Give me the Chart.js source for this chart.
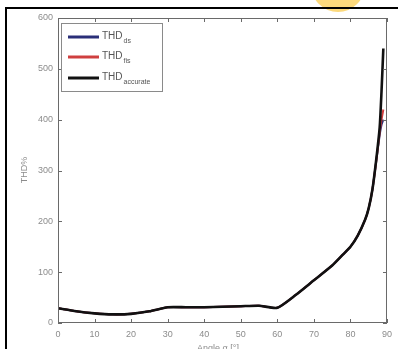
<!DOCTYPE html>
<html>
<head>
<meta charset="utf-8">
<script src="https://cdn.jsdelivr.net/npm/chart.js@4.4.0/dist/chart.umd.min.js"></script>
<style>
  html, body { margin: 0; padding: 0; background: #fff; }
  #wrap { position: relative; width: 398px; height: 349px; overflow: hidden; background: #fff; }
  #frameL { position: absolute; left: 5px; top: 7px; width: 2px; height: 342px; background: #000; }
  #frameT { position: absolute; left: 5px; top: 7px; width: 393px; height: 2px; background: #000; }
  #blob { position: absolute; left: 311px; top: -42px; width: 54px; height: 54px; border-radius: 50%; background: #fcd97c; }
  canvas { position: absolute; left: 0; top: 0; }
</style>
</head>
<body>
<div id="wrap">
  <canvas id="thdChart" width="398" height="349"></canvas>
  <div id="blob"></div>
  <div id="frameT"></div>
  <div id="frameL"></div>
</div>
<script>
// Angle values (x axis)
const angles = [0, 5, 10, 15, 20, 25, 30, 35, 40, 45, 50, 55, 60, 65, 70, 75, 78, 80, 82, 84, 85, 86, 87, 88, 88.5, 89];
// THD series
const thdDs       = [29, 23, 19, 17, 18, 23, 31, 31, 31, 32, 33, 34, 30, 55, 84, 113, 135, 150, 172, 203, 226, 262, 315, 370, 390, 400];
const thdFis      = [29, 23, 19, 17, 18, 23, 31, 31, 31, 32, 33, 34, 30, 55, 84, 113, 135, 150, 172, 203, 226, 262, 315, 375, 400, 420];
const thdAccurate = [29, 23, 19, 17, 18, 23, 31, 31, 31, 32, 33, 34, 30, 55, 84, 113, 135, 150, 172, 203, 226, 262, 318, 385, 455, 540];
const xTicks = [0, 10, 20, 30, 40, 50, 60, 70, 80, 90];
const yTicks = [0, 100, 200, 300, 400, 500, 600];

const legendSubs = ['ds', 'fis', 'accurate'];
const colors = { ds: '#2a2f78', fis: '#cf3f3f', accurate: '#111111', axis: '#6a6a6a', label: '#8c8c8c' };

function toPoints(ys) {
  return angles.map((a, i) => ({ x: a, y: ys[i] }));
}

// MATLAB-like box with inward ticks, legend with subscripts, axis titles
const matlabBox = {
  id: 'matlabBox',
  afterDraw(chart) {
    const ctx = chart.ctx;
    const a = chart.chartArea;
    const xs = chart.scales.x, ys = chart.scales.y;
    ctx.save();
    ctx.strokeStyle = colors.axis;
    ctx.lineWidth = 1;
    ctx.strokeRect(a.left + 0.5, a.top + 0.5, a.right - a.left - 1, a.bottom - a.top - 1);
    ctx.beginPath();
    xTicks.forEach(v => {
      const px = Math.round(xs.getPixelForValue(v)) + 0.5;
      ctx.moveTo(px, a.bottom); ctx.lineTo(px, a.bottom - 4);
      ctx.moveTo(px, a.top); ctx.lineTo(px, a.top + 4);
    });
    yTicks.forEach(v => {
      const py = Math.round(ys.getPixelForValue(v)) + 0.5;
      ctx.moveTo(a.left, py); ctx.lineTo(a.left + 4, py);
      ctx.moveTo(a.right, py); ctx.lineTo(a.right - 4, py);
    });
    ctx.stroke();

    // legend
    const lx = 61, ly = 23, lw = 101, lh = 68;
    ctx.fillStyle = '#fff';
    ctx.fillRect(lx, ly, lw, lh);
    ctx.strokeStyle = '#8a8a8a';
    ctx.strokeRect(lx + 0.5, ly + 0.5, lw, lh);
    const rows = [37, 57, 78];
    chart.data.datasets.forEach((ds, i) => {
      ctx.strokeStyle = ds.borderColor;
      ctx.lineWidth = 3;
      ctx.beginPath();
      ctx.moveTo(68, rows[i]); ctx.lineTo(99, rows[i]);
      ctx.stroke();
      ctx.fillStyle = '#555';
      ctx.textBaseline = 'middle';
      ctx.font = '10px "Liberation Sans", Arial, sans-serif';
      ctx.fillText('THD', 102, rows[i] - 1);
      const w = ctx.measureText('THD').width;
      ctx.font = '7px "Liberation Sans", Arial, sans-serif';
      ctx.fillText(legendSubs[i], 102 + w + 1, rows[i] + 4);
    });

    // axis titles
    ctx.fillStyle = colors.label;
    ctx.font = '9px "Liberation Sans", Arial, sans-serif';
    ctx.textAlign = 'center';
    ctx.textBaseline = 'middle';
    ctx.save();
    ctx.translate(25, 170);
    ctx.rotate(-Math.PI / 2);
    ctx.fillText('THD%', 0, 0);
    ctx.restore();
    ctx.fillText('Angle α [°]', 218, 349);
    ctx.restore();
  }
};

new Chart(document.getElementById('thdChart'), {
  type: 'line',
  data: {
    datasets: [
      { label: 'THD_ds', data: toPoints(thdDs), borderColor: colors.ds, borderWidth: 2, pointRadius: 0, tension: 0.2, order: 2 },
      { label: 'THD_fis', data: toPoints(thdFis), borderColor: colors.fis, borderWidth: 2, pointRadius: 0, tension: 0.2, order: 1 },
      { label: 'THD_accurate', data: toPoints(thdAccurate), borderColor: colors.accurate, borderWidth: 2.6, pointRadius: 0, tension: 0.2, order: 0 }
    ]
  },
  options: {
    responsive: false,
    animation: false,
    layout: { padding: { left: 0, top: 18, right: 7, bottom: 0 } },
    plugins: { legend: { display: false }, tooltip: { enabled: false } },
    scales: {
      x: {
        type: 'linear', min: 0, max: 90,
        afterBuildTicks: s => { s.ticks = xTicks.map(v => ({ value: v })); },
        afterFit: s => { s.height = 26; },
        grid: { display: false, drawTicks: false },
        border: { display: false },
        ticks: { padding: 6, color: colors.label, font: { size: 9, family: 'Liberation Sans' }, maxRotation: 0 }
      },
      y: {
        min: 0, max: 600,
        afterBuildTicks: s => { s.ticks = yTicks.map(v => ({ value: v })); },
        afterFit: s => { s.width = 58; },
        grid: { display: false, drawTicks: false },
        border: { display: false },
        ticks: { padding: 5, color: colors.label, font: { size: 9, family: 'Liberation Sans' } }
      }
    }
  },
  plugins: [matlabBox]
});
</script>
</body>
</html>
